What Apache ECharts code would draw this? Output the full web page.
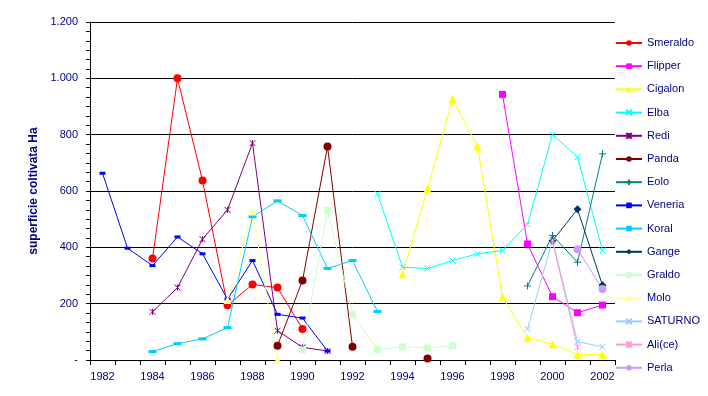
<!DOCTYPE html>
<html><head><meta charset="utf-8">
<script src="https://cdn.jsdelivr.net/npm/echarts@6/dist/echarts.min.js"></script>
<style>html,body{margin:0;padding:0;background:#fff}#c{width:708px;height:396px}</style>
</head><body><div id="c"></div>
<script>
const years = ['1982','1983','1984','1985','1986','1987','1988','1989','1990','1991','1992','1993','1994','1995','1996','1997','1998','1999','2000','2001','2002'];
const yTickLabels = {0:'-',200:'200',400:'400',600:'600',800:'800',1000:'1.000',1200:'1.200'};
const _ = null;
//                1982 83  84   85   86   87   88   89   90   91   92   93   94   95   96   97   98   99   2000 01   02
const smeraldo = [_,  _,  360, 1000,637, 194, 268, 257, 110, _,   _,   _,   _,   _,   _,   _,   _,   _,   _,   _,   _];
const flipper  = [_,  _,  _,   _,   _,   _,   _,   _,   _,   _,   _,   _,   _,   _,   _,   _,   943, 412, 225, 168, 195];
const cigalon  = [_,  _,  _,   _,   _,   _,   _,   _,   _,   _,   _,   _,   304, 608, 926, 758, 223, 79,  56,  19,  19];
const elba     = [_,  _,  _,   _,   _,   _,   _,   _,   _,   _,   _,   590, 329, 325, 353, 377, 389, 481, 801, 720, 389];
const redi     = [_,  _,  171, 257, 429, 533, 770, 104, 45,  32,  _,   _,   _,   _,   _,   _,   _,   _,   _,   _,   _];
const panda    = [_,  _,  _,   _,   _,   _,   _,   51,  282, 758, 47,  _,   _,   5,   _,   _,   _,   _,   _,   _,   _];
const eolo     = [_,  _,  _,   _,   _,   _,   _,   _,   _,   _,   _,   _,   _,   _,   _,   _,   _,   263, 442, 347, 732];
const veneria  = [663,397,335, 437, 377, 216, 353, 162, 149, 32,  _,   _,   _,   _,   _,   _,   _,   _,   _,   _,   _];
const koral    = [_,  _,  30,  58,  75,  115, 509, 565, 513, 325, 353, 172, _,   _,   _,   _,   _,   _,   _,   _,   _];
const gange    = [_,  _,  _,   _,   _,   _,   _,   _,   _,   _,   _,   _,   _,   _,   _,   _,   _,   _,   423, 535, 265];
const graldo   = [_,  _,  _,   _,   _,   _,   _,   _,   36,  531, 162, 37,  47,  43,  51,  _,   _,   _,   _,   _,   _];
const molo     = [_,  _,  _,   _,   _,   213, 527, 0,   _,   _,   _,   _,   _,   _,   _,   _,   _,   _,   _,   _,   _];
const saturno  = [_,  _,  _,   _,   _,   _,   _,   _,   _,   _,   _,   _,   _,   _,   _,   _,   _,   110, 426, 65,  47];
const alice    = [_,  _,  _,   _,   _,   _,   _,   _,   _,   _,   _,   _,   _,   _,   _,   _,   _,   _,   420, 45,  _];
const perla    = [_,  _,  _,   _,   _,   _,   _,   _,   _,   _,   _,   _,   _,   _,   _,   _,   _,   _,   _,   393, 252];

const XS = 'path://M0,0L10,10M10,0L0,10';
const PLUS = 'path://M5,0L5,10M0,5L10,5';
const AST = 'path://M0,0L10,10M10,0L0,10M5,0L5,10';
const NAVY = '#000080';
const FONT = '"Liberation Sans", Arial, sans-serif';

function mk(name, data, color, symbol, size, stroke) {
  return {
    name, type: 'line', data, symbol, symbolSize: size, showAllSymbol: true,
    connectNulls: false,
    lineStyle: { color, width: 1 },
    itemStyle: stroke ? { color, borderColor: color, borderWidth: 1 } : { color, borderWidth: 0 },
    emphasis: { disabled: true }
  };
}

const series = [
  mk('Smeraldo', smeraldo, '#FF0000', 'circle', 8),
  mk('Flipper', flipper, '#FF00FF', 'rect', 7),
  mk('Cigalon', cigalon, '#FFFF00', 'triangle', 8),
  mk('Elba', elba, '#00FFFF', XS, 6, true),
  mk('Redi', redi, '#800080', AST, 6, true),
  mk('Panda', panda, '#800000', 'circle', 8),
  mk('Eolo', eolo, '#008080', PLUS, 7, true),
  mk('Veneria', veneria, '#0000FF', 'rect', [6,3]),
  mk('Koral', koral, '#00CCFF', 'rect', [8,3]),
  mk('Gange', gange, '#003366', 'diamond', 8),
  mk('Graldo', graldo, '#CCFFCC', 'rect', 7),
  mk('Molo', molo, '#FFFF99', 'triangle', 8),
  mk('SATURNO', saturno, '#99CCFF', XS, 6, true),
  mk('Ali(ce)', alice, '#FF99CC', AST, 6, true),
  mk('Perla', perla, '#CC99FF', 'circle', 8)
];

const chart = echarts.init(document.getElementById('c'), null, { renderer: 'canvas' });
chart.setOption({
  animation: false,
  backgroundColor: '#fff',
  grid: { left: 90, right: 93, top: 22, bottom: 36, containLabel: false },
  legend: {
    orient: 'vertical', left: 615, top: 37.5, padding: 0,
    itemWidth: 26, itemHeight: 7, itemGap: 12.2,
    textStyle: { color: NAVY, fontSize: 11, fontFamily: FONT },
    data: series.map(s => s.name)
  },
  xAxis: {
    type: 'category', data: years, boundaryGap: true,
    axisLine: { lineStyle: { color: '#000', width: 1 } },
    axisTick: { show: true, interval: 0, alignWithLabel: false, length: 5, lineStyle: { color: '#000' } },
    axisLabel: { interval: 1, color: NAVY, fontSize: 11, fontFamily: FONT, margin: 11 },
    splitLine: { show: false }
  },
  yAxis: {
    type: 'value', min: 0, max: 1200, interval: 200,
    name: 'superficie coltivata Ha', nameLocation: 'middle', nameGap: 49, nameRotate: 90,
    nameTextStyle: { color: NAVY, fontSize: 12, fontWeight: 'bold', fontFamily: FONT },
    axisLine: { show: true, lineStyle: { color: '#000', width: 1 } },
    axisTick: { show: true, length: 4, lineStyle: { color: '#000' } },
    minorTick: { show: true, splitNumber: 6, length: 4, lineStyle: { color: '#000' } },
    axisLabel: { color: NAVY, fontSize: 11, fontFamily: FONT, margin: 12,
      formatter: v => yTickLabels[v] !== undefined ? yTickLabels[v] : '' },
    splitLine: { show: true, lineStyle: { color: '#000', width: 1 } }
  },
  series
});
</script></body></html>
